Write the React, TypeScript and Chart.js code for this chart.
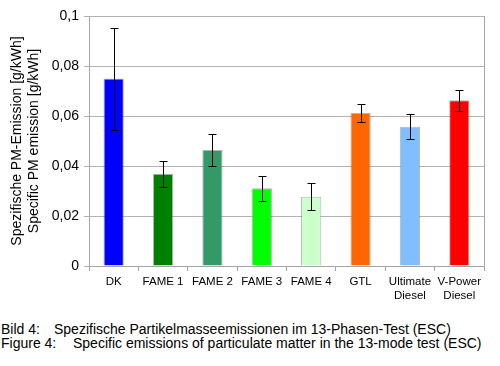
import React, { useEffect, useRef } from "react";
import { Chart, registerables } from "chart.js";

Chart.register(...registerables);

const categories: (string | string[])[] = [
  "DK",
  "FAME 1",
  "FAME 2",
  "FAME 3",
  "FAME 4",
  "GTL",
  ["Ultimate", "Diesel"],
  ["V-Power", "Diesel"],
];
const emissions = [0.075, 0.0369, 0.0464, 0.0311, 0.0277, 0.0613, 0.0557, 0.0663];
const errors = [0.0204, 0.0053, 0.0065, 0.005, 0.0053, 0.0037, 0.005, 0.0042];
const barColors = [
  "#0000ff",
  "#008000",
  "#339966",
  "#00ff00",
  "#ccffcc",
  "#ff6600",
  "#80bfff",
  "#ff0000",
];
const yTickLabels: Record<string, string> = {
  "0": "0",
  "0.02": "0,02",
  "0.04": "0,04",
  "0.06": "0,06",
  "0.08": "0,08",
  "0.1": "0,1",
};
const yTitle = ["Spezifische PM-Emission [g/kWh]", "Specific PM emission [g/kWh]"];
const captionDe = ["Bild 4:", "Spezifische Partikelmasseemissionen im 13-Phasen-Test (ESC)"];
const captionEn = ["Figure 4:", "Specific emissions of particulate matter in the 13-mode test (ESC)"];

const FONT = "'Liberation Sans', Arial, sans-serif";

const errorBarPlugin = {
  id: "errorBars",
  afterDatasetsDraw(chart: any) {
    const ctx = chart.ctx;
    const meta = chart.getDatasetMeta(0);
    const y = chart.scales.y;
    ctx.save();
    ctx.strokeStyle = "#000";
    ctx.lineWidth = 1;
    meta.data.forEach((bar: any, i: number) => {
      const v = emissions[i];
      const e = errors[i];
      const x = Math.round(bar.x) + 0.5;
      const yt = Math.round(y.getPixelForValue(v + e)) + 0.5;
      const yb = Math.round(y.getPixelForValue(v - e)) + 0.5;
      ctx.beginPath();
      ctx.moveTo(x, yt);
      ctx.lineTo(x, yb);
      ctx.moveTo(x - 4, yt);
      ctx.lineTo(x + 4, yt);
      ctx.moveTo(x - 4, yb);
      ctx.lineTo(x + 4, yb);
      ctx.stroke();
    });
    ctx.restore();
  },
};

const rightBorderPlugin = {
  id: "rightBorder",
  afterDraw(chart: any) {
    const { ctx, chartArea } = chart;
    ctx.save();
    ctx.strokeStyle = "#a6a6a6";
    ctx.lineWidth = 1;
    const x = Math.round(chartArea.right) + 0.5;
    ctx.beginPath();
    ctx.moveTo(x, chartArea.top);
    ctx.lineTo(x, chartArea.bottom + 5);
    ctx.stroke();
    ctx.restore();
  },
};

export default function App() {
  const ref = useRef<HTMLCanvasElement | null>(null);

  useEffect(() => {
    if (!ref.current) return;
    const chart = new Chart(ref.current, {
      type: "bar",
      data: {
        labels: categories as any,
        datasets: [
          {
            data: emissions,
            backgroundColor: barColors,
            borderColor: "rgba(90,90,90,0.45)",
            borderWidth: 1,
            barPercentage: 0.41,
            categoryPercentage: 1,
          },
        ],
      },
      options: {
        animation: false,
        responsive: false,
        maintainAspectRatio: false,
        layout: { padding: { top: 16, right: 16, left: 0, bottom: 0 } },
        plugins: {
          legend: { display: false },
          tooltip: { enabled: false },
        },
        scales: {
          x: {
            grid: {
              offset: true,
              drawOnChartArea: false,
              drawTicks: true,
              tickLength: 5,
              color: "#a6a6a6",
            },
            border: { color: "#a6a6a6" },
            ticks: {
              color: "#000",
              font: { family: FONT, size: 11.5 },
              padding: 4,
              maxRotation: 0,
              autoSkip: false,
            },
            afterFit(scale: any) {
              scale.height = 39;
            },
          },
          y: {
            min: 0,
            max: 0.1,
            ticks: {
              stepSize: 0.02,
              color: "#000",
              font: { family: FONT, size: 14 },
              padding: 5,
              callback: (v: any) => {
                const k = String(Math.round(Number(v) * 100) / 100);
                return yTickLabels[k] ?? k;
              },
            },
            grid: { color: "#b3b3b3", tickLength: 5 },
            border: { color: "#a6a6a6" },
            title: {
              display: true,
              text: yTitle,
              color: "#000",
              font: { family: FONT, size: 14 },
              padding: { top: 9, bottom: 0 },
            },
            afterFit(scale: any) {
              scale.width = 89;
            },
          },
        },
      },
      plugins: [errorBarPlugin, rightBorderPlugin],
    });
    return () => chart.destroy();
  }, []);

  const capStyle: React.CSSProperties = {
    position: "absolute",
    left: 1,
    fontFamily: FONT,
    fontSize: 14,
    lineHeight: "14px",
    whiteSpace: "nowrap",
    color: "#000",
  };

  return (
    <div
      style={{
        position: "fixed",
        left: 0,
        top: 0,
        width: 500,
        height: 366,
        background: "#fff",
      }}
    >
      <canvas ref={ref} width={500} height={305} style={{ display: "block" }} />
      <div style={{ ...capStyle, top: 322 }}>
        <span>{captionDe[0]}</span>
        <span style={{ position: "absolute", left: 53 }}>{captionDe[1]}</span>
      </div>
      <div style={{ ...capStyle, top: 336 }}>
        <span>{captionEn[0]}</span>
        <span style={{ position: "absolute", left: 72 }}>{captionEn[1]}</span>
      </div>
    </div>
  );
}
